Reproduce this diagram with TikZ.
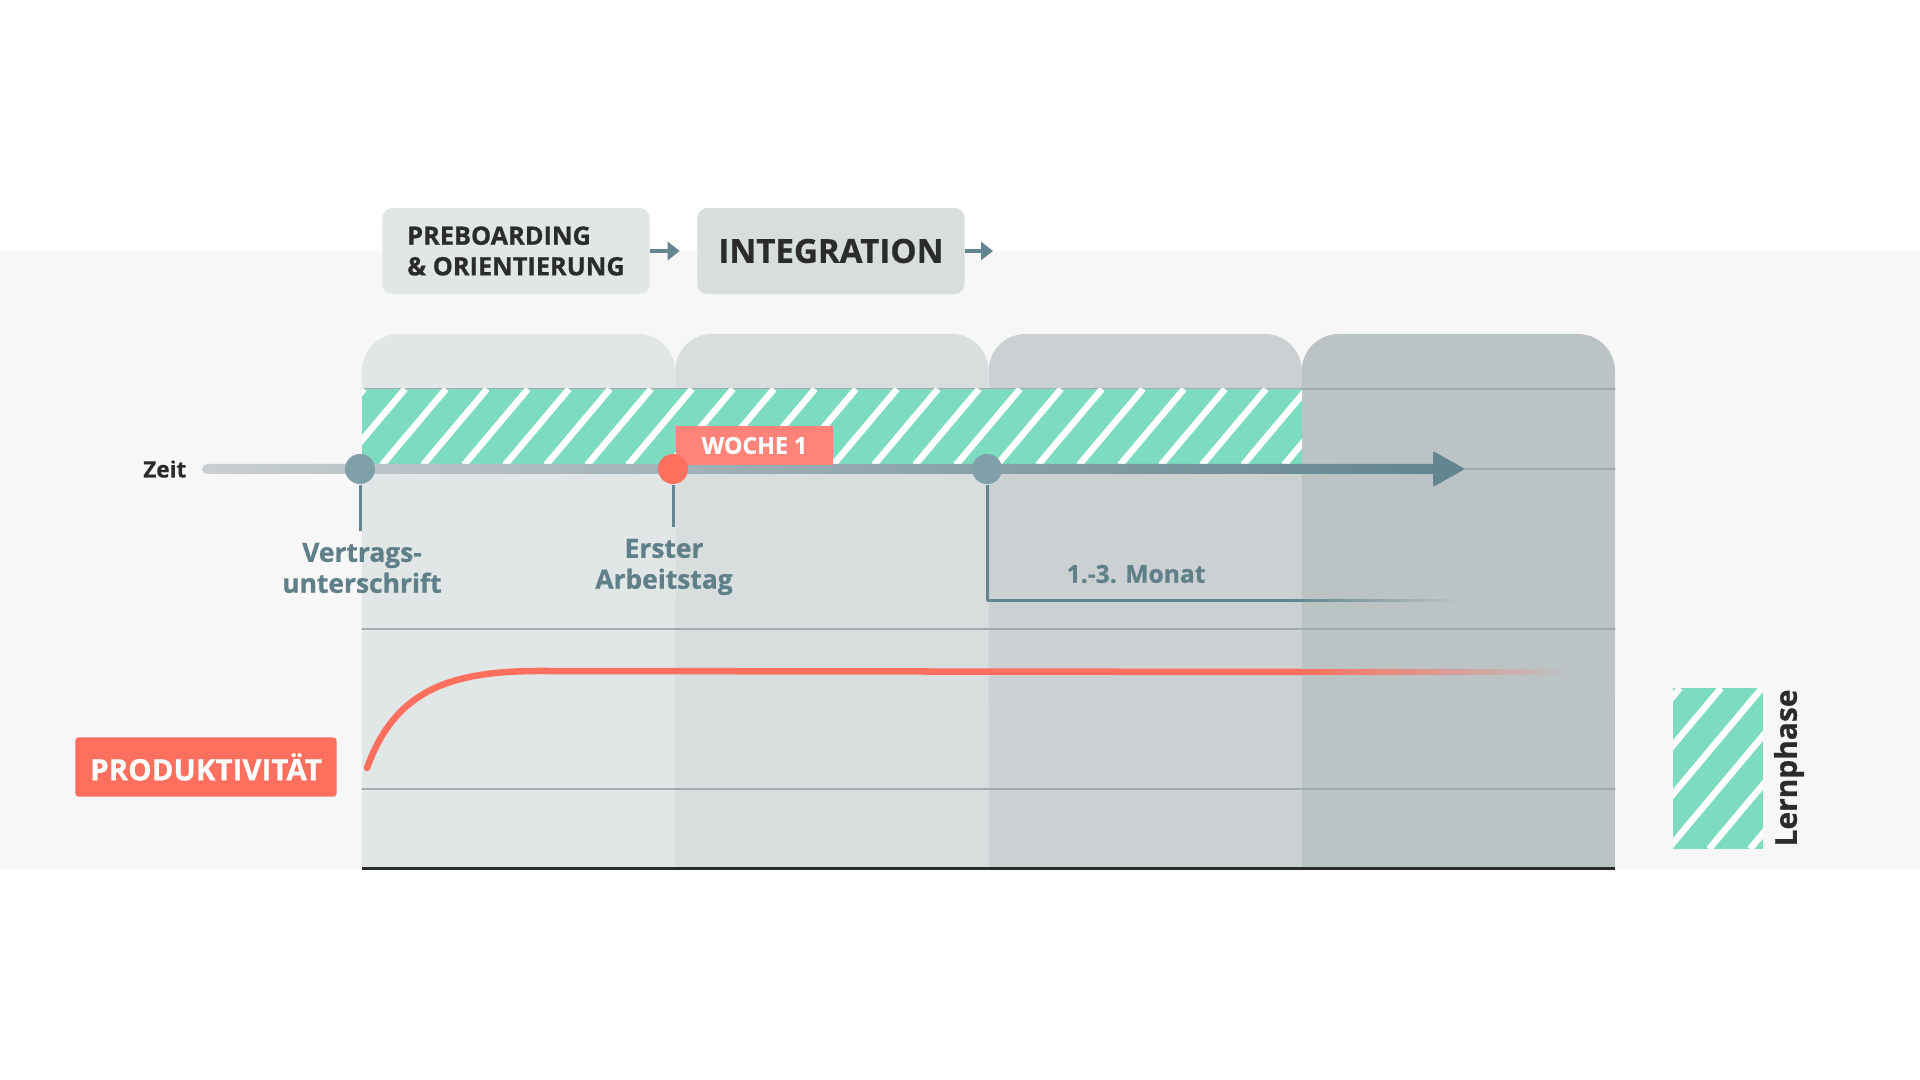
\documentclass[tikz,border=0pt]{standalone}
\usepackage{fontspec}
\setmainfont{Open Sans}[BoldFeatures={FakeBold=0.7}]
\usetikzlibrary{arrows.meta,fadings,positioning}
\definecolor{bandgray}{HTML}{F7F7F7}
\definecolor{colA}{HTML}{E1E6E7}
\definecolor{colB}{HTML}{D8DDDE}
\definecolor{colC}{HTML}{CBD1D2}
\definecolor{colD}{HTML}{BCC3C5}
\definecolor{mint}{HTML}{7DDCC0}
\definecolor{coral}{HTML}{FF6F5E}
\definecolor{salmon}{HTML}{FF8378}
\definecolor{slate}{HTML}{628590}
\definecolor{axisstart}{HTML}{C9CED1}
\definecolor{dotgray}{HTML}{7F9FA9}
\definecolor{labelgray}{HTML}{5F7F89}
\definecolor{ink}{HTML}{2B2B2B}
\definecolor{gridgray}{HTML}{A3ABAD}
\tikzfading[name=fade right, left color=transparent!0, right color=transparent!100]

\begin{document}
\begin{tikzpicture}[x=0.01cm, y=-0.01cm, font=\bfseries, line join=round, line cap=round,
  phase/.style={fill=#1, rounded corners=0.1cm, minimum width=2.67cm, minimum height=0.86cm, text=ink, inner sep=0pt},
  phasearrow/.style={-{Triangle[length=0.12cm,width=0.18cm]}, slate, line width=0.04cm, line cap=butt},
  dot/.style={circle, fill=#1, minimum size=0.3cm, inner sep=0pt},
  stem/.style={slate, line width=0.03cm, line cap=butt},
  tick/.style={text=labelgray, align=center, font=\bfseries\fontsize{7.5}{8.8}\selectfont},
  grid/.style={gridgray, line width=0.3pt},
  hatch/.style={white, line width=0.065cm, line cap=butt}]
  \def\cw{313.25}
  \useasboundingbox (0,0) rectangle (1920,1080);
  \fill[white] (0,0) rectangle (1920,1080);
  \fill[bandgray] (0,251) rectangle (1920,869);
  % phases
  \node[phase=colA, align=left, font=\bfseries\fontsize{7.2}{8.7}\selectfont] (pre) at (516,251) {PREBOARDING\\\& ORIENTIERUNG};
  \node[phase=colB, font=\bfseries\fontsize{9.4}{11}\selectfont] (integ) at (831,251) {INTEGRATION};
  \coordinate (next) at (993,251);
  \draw[phasearrow, shorten >=0.17cm] (pre) -- (integ);
  \draw[phasearrow] (integ) -- (next);
  % columns
  \foreach \i/\colr in {0/colA,1/colB,2/colC,3/colD}{
    \fill[\colr, rounded corners=0.37cm] (362+\i*\cw,334) rectangle ++(\cw,400);
    \fill[\colr] (362+\i*\cw,600) rectangle ++(\cw,269);
  }
  \foreach \y in {389,469,629,789} \draw[grid] (362,\y) -- (1615,\y);
  % learning phase
  \fill[mint] (362,389) rectangle (1302,465);
  \begin{scope}
    \clip (362,389) rectangle (1302,465);
    \foreach \k in {0,...,24} \draw[hatch] (300+\k*41,465) -- ++(64,-76);
  \end{scope}
  % time axis
  \shade[left color=axisstart, right color=slate, rounded corners=0.05cm] (202,464) rectangle (1440,474);
  \fill[slate, rounded corners=0.02cm] (1433,451) -- (1465,469) -- (1433,487) -- cycle;
  \node[text=ink, font=\bfseries\fontsize{6.4}{8}\selectfont, anchor=east, inner sep=0pt] (zeit) at (187,469) {Zeit};
  \node[fill=salmon, minimum width=1.57cm, minimum height=0.39cm, inner sep=0pt, text=white, font=\bfseries\fontsize{6.6}{8}\selectfont] (woche) at (754.5,445.5) {WOCHE 1};
  \node[dot=dotgray] (d1) at (360,469) {};
  \node[dot=coral] (d2) at (673,469) {};
  \node[dot=dotgray] (d3) at (987,469) {};
  \node[tick] (vertrag) at (362,568) {Vertrags-\\unterschrift};
  \node[tick] (erster) at (664,567) {Erster\\Arbeitstag};
  \node[tick, anchor=west, inner sep=0pt, font=\bfseries\fontsize{7}{8}\selectfont] (monat) at (1066,574) {1.-3. Monat};
  \coordinate (m1) at (1290,601);
  \draw[stem] (d1) -- (d1 |- vertrag.north);
  \draw[stem] (d2) -- (d2 |- erster.north);
  \draw[stem] (d3) |- (m1);
  \fill[slate, path fading=fade right] (1290,599.5) rectangle (1460,602.5);
  % productivity
  \draw[coral, line width=0.065cm] (367,768) .. controls (395,690) and (450,671) .. (540,671) -- (1300,672);
  \fill[coral, path fading=fade right] (1300,668.75) rectangle (1570,675.25);
  \node[fill=coral, rounded corners=0.03cm, minimum width=2.61cm, minimum height=0.59cm, text=white, font=\bfseries\fontsize{8.4}{10}\selectfont] (prod) at (206,767) {PRODUKTIVITÄT};
  \draw[ink, line width=0.03cm, line cap=butt] (362,869) -- (1615,869);
  % legend
  \fill[mint] (1673,688) rectangle (1763,849);
  \begin{scope}
    \clip (1673,688) rectangle (1763,849);
    \foreach \k in {0,...,6} \draw[hatch] (1545+\k*41,849) -- ++(135,-161);
  \end{scope}
  \node[rotate=90, text=ink, font=\bfseries\fontsize{8.5}{10}\selectfont] (lern) at (1789,768) {Lernphase};
\end{tikzpicture}
\end{document}
